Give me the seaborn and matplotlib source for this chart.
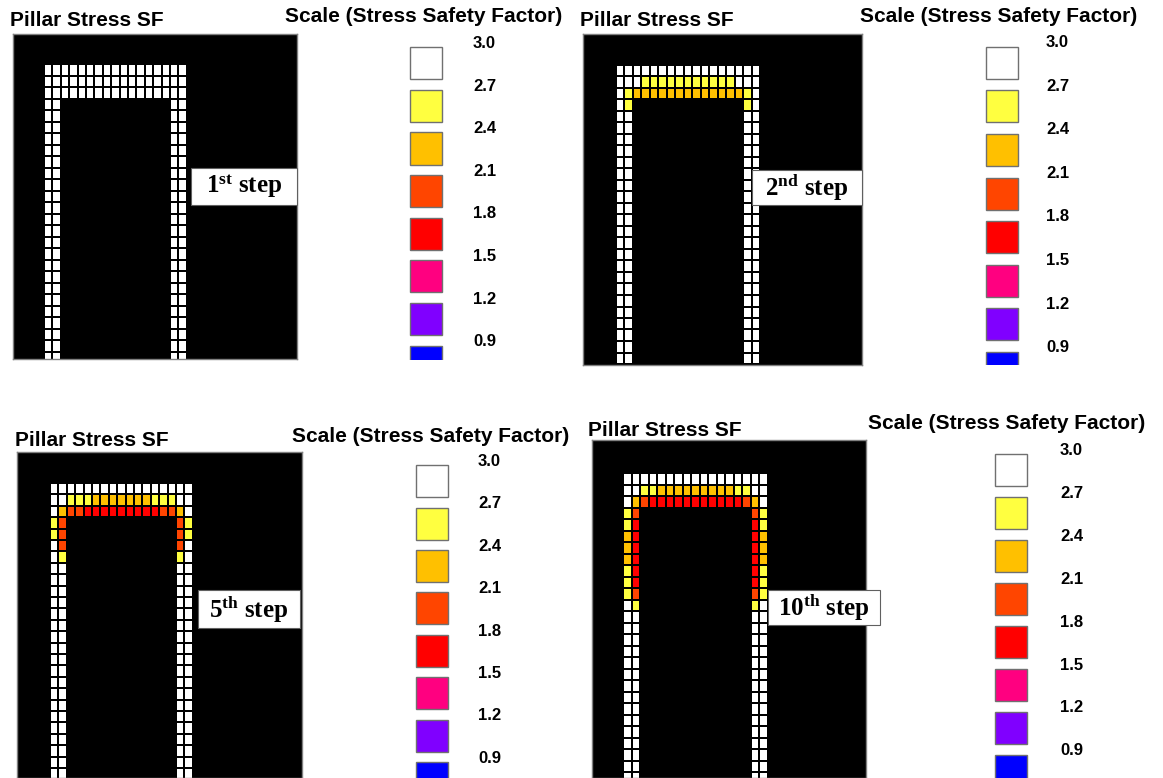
import numpy as np
import matplotlib
matplotlib.use("Agg")
import matplotlib.pyplot as plt
from matplotlib.colors import ListedColormap, BoundaryNorm
from matplotlib.patches import Rectangle
import seaborn as sns

sns.set_style("white")
plt.rcParams["font.family"] = ["Liberation Sans", "DejaVu Sans"]
plt.rcParams["text.color"] = "black"
plt.rcParams["ytick.color"] = "black"
plt.rcParams["ytick.labelcolor"] = "black"
plt.rcParams["mathtext.fontset"] = "custom"
plt.rcParams["mathtext.rm"] = "Liberation Serif"
plt.rcParams["mathtext.bf"] = "Liberation Serif:bold"

# Safety-factor scale: bin edges and the colour of each bin (low -> high)
SF_EDGES = [0.6, 0.9, 1.2, 1.5, 1.8, 2.1, 2.4, 2.7, 3.0]
SF_COLORS = ["#0000FF", "#8000FF", "#FF0080", "#FF0000",
             "#FF4500", "#FFC000", "#FFFF40", "#FFFFFF"]
SF_TICKS = [3.0, 2.7, 2.4, 2.1, 1.8, 1.5, 1.2, 0.9]

# Cell class codes -> representative safety factor of that class
CODE_SF = {"W": 2.85, "Y": 2.55, "O": 2.25, "D": 1.95, "R": 1.65}

STEP_NAMES = ["1", "2", "5", "10"]
STEP_SUFFIX = ["st", "nd", "th", "th"]

# Top 3 rows of the pillar zone (17 zones wide)
TOP_ROWS_1 = ["WWWWWWWWWWWWWWWWW", "WWWWWWWWWWWWWWWWW", "WWWWWWWWWWWWWWWWW"]
TOP_ROWS_2 = ["WWWWWWWWWWWWWWWWW", "WWWYYYYYYYYYYYWWW", "WYOOOOOOOOOOOOOYW"]
TOP_ROWS_5 = ["WWWWWWWWWWWWWWWWW", "WWYYYOOOOOOOYYYWW", "WODDRRRRRRRRRDDOW"]
TOP_ROWS_10 = ["WWWWWWWWWWWWWWWWW", "WWYYOOOOOOOOOYYWW", "WODRRRRRRRRRRRDOW"]

# Two-zone-wide ribs below the top rows (outer, inner); right rib mirrors left
RIB_ROWS_1 = []
RIB_ROWS_2 = ["WY"]
RIB_ROWS_5 = ["YD", "YD", "WD", "WY"]
RIB_ROWS_10 = ["YD", "YR", "OR", "OR", "OR", "YR", "YR", "YD", "WY"]

TOP_ROWS = [TOP_ROWS_1, TOP_ROWS_2, TOP_ROWS_5, TOP_ROWS_10]
RIB_ROWS = [RIB_ROWS_1, RIB_ROWS_2, RIB_ROWS_5, RIB_ROWS_10]

N_COLS = 17
N_ROWS = 30


def build_grid(top, ribs):
    grid = np.full((N_ROWS, N_COLS), np.nan)
    for i, row in enumerate(top):
        grid[i, :] = [CODE_SF[c] for c in row]
    for i in range(len(top), N_ROWS):
        k = i - len(top)
        pair = ribs[k] if k < len(ribs) else "WW"
        grid[i, 0] = CODE_SF[pair[0]]
        grid[i, 1] = CODE_SF[pair[1]]
        grid[i, N_COLS - 2] = CODE_SF[pair[1]]
        grid[i, N_COLS - 1] = CODE_SF[pair[0]]
    return grid


W, H = 1163, 778
fig = plt.figure(figsize=(W / 100, H / 100), dpi=100)
fig.patch.set_facecolor("white")


def fax(x0, y0, x1, y1):
    return fig.add_axes([x0 / W, 1 - y1 / H, (x1 - x0) / W, (y1 - y0) / H])


# Layout of the four panels (pixel geometry)
LAYOUT = [
    dict(box=(13, 34, 297, 359), origin=(44, 64), pitch=(8.4, 11.5),
         title=(10, 20), ltitle=(285, 17), sq=(410, 442), lab=473,
         y30=42, lp=42.6, lbot=360, tag=(191, 168, 297, 205)),
    dict(box=(583, 34, 862, 365), origin=(616, 65), pitch=(8.47, 11.5),
         title=(580, 20), ltitle=(860, 17), sq=(986, 1018), lab=1046,
         y30=41, lp=43.6, lbot=365, tag=(752, 170, 862, 205)),
    dict(box=(17, 452, 302, 778), origin=(50, 483), pitch=(8.4, 11.4),
         title=(15, 440), ltitle=(292, 436), sq=(416, 448), lab=478,
         y30=460, lp=42.4, lbot=778, tag=(198, 590, 300, 628)),
    dict(box=(592, 440, 866, 778), origin=(623, 473), pitch=(8.5, 11.5),
         title=(588, 430), ltitle=(868, 424), sq=(995, 1027), lab=1060,
         y30=449, lp=42.9, lbot=778, tag=(768, 590, 880, 625)),
]

cmap = ListedColormap(SF_COLORS)
norm = BoundaryNorm(SF_EDGES, cmap.N)

for p, top, ribs, name, suf in zip(LAYOUT, TOP_ROWS, RIB_ROWS, STEP_NAMES, STEP_SUFFIX):
    # ---- pillar stress map ----
    x0, y0, x1, y1 = p["box"]
    ax = fax(x0, y0, x1, y1)
    grid = build_grid(top, ribs)
    sns.heatmap(grid, ax=ax, cmap=cmap, norm=norm, mask=np.isnan(grid),
                linewidths=1.4, linecolor="black", cbar=False,
                xticklabels=False, yticklabels=False)
    ax.set_facecolor("black")
    ox, oy = p["origin"]
    px, py = p["pitch"]
    ax.set_xlim((x0 - ox) / px, (x1 - ox) / px)
    ax.set_ylim((y1 - oy) / py, (y0 - oy) / py)
    for s in ax.spines.values():
        s.set_visible(True)
        s.set_color("#808080")
        s.set_linewidth(1.0)

    fig.text(p["title"][0] / W, 1 - p["title"][1] / H, "Pillar Stress SF",
             fontsize=15, fontweight="bold", ha="left", va="center",
             color="black")
    fig.text(p["ltitle"][0] / W, 1 - p["ltitle"][1] / H,
             "Scale (Stress Safety Factor)",
             fontsize=15, fontweight="bold", ha="left", va="center",
             color="black")

    # ---- step tag ----
    tx0, ty0, tx1, ty1 = p["tag"]
    fig.patches.append(Rectangle((tx0 / W, 1 - ty1 / H), (tx1 - tx0) / W,
                                 (ty1 - ty0) / H, transform=fig.transFigure,
                                 facecolor="white", edgecolor="#606060",
                                 linewidth=0.8, zorder=5))
    fig.text((tx0 + tx1) / 2 / W, 1 - (ty0 + ty1) / 2 / H,
             r"$\mathbf{" + name + r"^{" + suf + r"}}$" + " step",
             fontsize=18, fontweight="bold", family="Liberation Serif",
             ha="center", va="center", zorder=6, color="black")

    # ---- legend scale ----
    sx0, sx1 = p["sq"]
    y30, lp, lbot = p["y30"], p["lp"], p["lbot"]
    top_px = y30 - 14

    def to_sf(pix):
        return 3.0 - (pix - y30) / lp * 0.3

    lax = fax(sx0 - 3, top_px, sx1 + 3, lbot)
    lax.set_xlim(-0.1, 1.1)
    lax.set_ylim(to_sf(lbot), to_sf(top_px))
    sq_h = 32 / lp * 0.3
    centers = [(a + b) / 2 for a, b in zip(SF_EDGES[:-1], SF_EDGES[1:])]
    lax.bar([0.5] * len(centers), [sq_h] * len(centers), width=1.0,
            bottom=[c - sq_h / 2 for c in centers], color=SF_COLORS,
            edgecolor="#707070", linewidth=1.0)
    lax.set_facecolor("none")
    for s in lax.spines.values():
        s.set_visible(False)
    lax.set_xticks([])
    lax.yaxis.tick_right()
    lax.set_yticks(SF_TICKS)
    lax.set_yticklabels([f"{v:.1f}" for v in SF_TICKS], fontsize=12,
                        fontweight="bold", color="black")
    lax.tick_params(axis="y", length=0, pad=(p["lab"] - sx1 - 3) / 1.389)

fig.savefig("out.png", dpi=100, facecolor="white")
